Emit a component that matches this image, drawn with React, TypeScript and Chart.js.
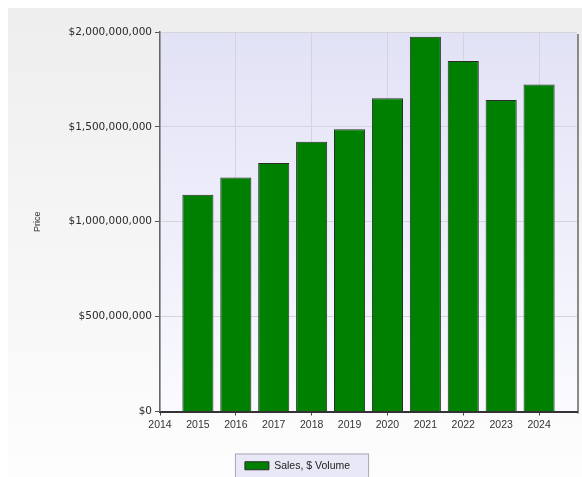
import React, { useEffect, useRef } from "react";
import { Chart, registerables } from "chart.js";

Chart.register(...registerables);

// ---- data ----
const years = [2015, 2016, 2017, 2018, 2019, 2020, 2021, 2022, 2023, 2024];
const salesVolume = [
  1142000000, 1233000000, 1309000000, 1421000000, 1488000000,
  1651000000, 1975000000, 1847000000, 1642000000, 1723000000,
];
const xMin = 2014;
const xMax = 2025;
const yMin = 0;
const yMax = 2000000000;
const yStep = 500000000;
const seriesLabel = "Sales, $ Volume";
const yTitle = "Price";

const backgroundPlugin = {
  id: "bgPlugin",
  beforeDraw(chart: any) {
    const { ctx, width, height, chartArea: a, legend } = chart;
    ctx.save();
    let g = ctx.createLinearGradient(0, 0, 0, height);
    g.addColorStop(0, "#eeeeee");
    g.addColorStop(1, "#fdfdfd");
    ctx.fillStyle = g;
    ctx.fillRect(0, 0, width, height);

    g = ctx.createLinearGradient(0, a.top, 0, a.bottom);
    g.addColorStop(0, "#e2e2f6");
    g.addColorStop(1, "#fafaff");
    ctx.fillStyle = g;
    ctx.fillRect(a.left, a.top, a.right - a.left, a.bottom - a.top);

    ctx.strokeStyle = "#d2d2da";
    ctx.lineWidth = 1;
    ctx.beginPath();
    ctx.moveTo(a.left, a.top + 0.5);
    ctx.lineTo(a.right, a.top + 0.5);
    ctx.stroke();

    ctx.fillStyle = "#8a8a8a";
    ctx.fillRect(a.right, a.top + 2, 2, a.bottom - a.top);

    if (legend && legend.legendHitBoxes && legend.legendHitBoxes.length) {
      const hb = legend.legendHitBoxes[0];
      const left = hb.left - 10;
      const right = hb.left + hb.width + 18;
      const top = hb.top - 7;
      ctx.fillStyle = "#e8e8f6";
      ctx.fillRect(left, top, right - left, height - top + 10);
      ctx.strokeStyle = "#a8a8b0";
      ctx.lineWidth = 1;
      ctx.strokeRect(left + 0.5, top + 0.5, right - left, height - top + 10);
    }
    ctx.restore();
  },
};

export default function App() {
  const ref = useRef<HTMLCanvasElement | null>(null);

  useEffect(() => {
    if (!ref.current) return;
    Chart.defaults.font.family = "'Liberation Sans', Arial, sans-serif";
    const chart = new Chart(ref.current, {
      type: "bar",
      data: {
        datasets: [
          {
            label: seriesLabel,
            data: years.map((y, i) => ({ x: y, y: salesVolume[i] })),
            backgroundColor: "#008000",
            borderColor: "#2b2b2b",
            borderWidth: 1,
            barPercentage: 1,
            categoryPercentage: 0.82,
          },
        ],
      },
      options: {
        animation: false,
        responsive: true,
        maintainAspectRatio: false,
        layout: { padding: { left: 10, right: 5, top: 24, bottom: 0 } },
        plugins: {
          tooltip: { enabled: false },
          legend: {
            position: "bottom",
            labels: {
              boxWidth: 24,
              boxHeight: 8,
              padding: 10,
              color: "#222",
              font: { size: 10.5 },
            },
          },
        },
        scales: {
          x: {
            type: "linear",
            min: xMin,
            max: xMax,
            offset: false,
            afterFit: (s: any) => {
              s.height = 39;
            },
            ticks: {
              stepSize: 1,
              autoSkip: false,
              maxRotation: 0,
              padding: 3,
              color: "#333",
              font: { size: 10.5 },
              callback: (v: any) => (v === xMax ? "" : String(v)),
            },
            grid: {
              offset: false,
              color: (c: any) =>
                c.tick && c.tick.value % 2 === 0 ? "#d4d4dc" : "rgba(0,0,0,0)",
              tickColor: (c: any) =>
                c.tick && c.tick.value % 2 === 0 && c.tick.value !== xMax
                  ? "#444"
                  : "rgba(0,0,0,0)",
              tickLength: 4,
            },
            border: { color: "#333", width: 2 },
          },
          y: {
            min: yMin,
            max: yMax,
            afterFit: (s: any) => {
              s.width = 142;
            },
            title: {
              display: true,
              text: yTitle,
              color: "#333",
              font: { size: 9 },
              padding: { top: 14, bottom: 0 },
            },
            ticks: {
              stepSize: yStep,
              padding: 3,
              color: "#2a2a2a",
              font: { size: 10.5, family: "'DejaVu Sans', sans-serif" },
              callback: (v: any) => "$" + Number(v).toLocaleString("en-US"),
            },
            grid: {
              color: "#d4d4dc",
              tickColor: "#555",
              tickLength: 5,
            },
            border: { color: "#666", width: 1.5 },
          },
        },
      },
      plugins: [backgroundPlugin],
    });
    return () => chart.destroy();
  }, []);

  return (
    <div
      style={{
        position: "fixed",
        left: 8,
        top: 8,
        width: 574,
        height: 473,
      }}
    >
      <canvas ref={ref} />
    </div>
  );
}
